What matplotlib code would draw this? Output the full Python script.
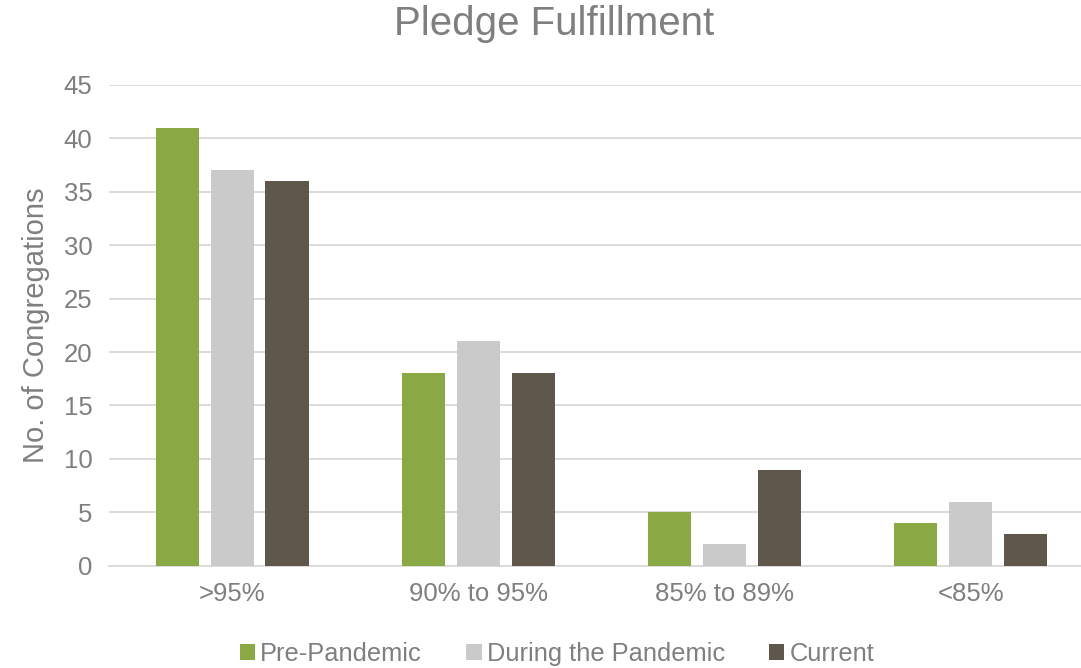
import matplotlib.pyplot as plt
import numpy as np

categories = [">95%", "90% to 95%", "85% to 89%", "<85%"]
series_names = ["Pre-Pandemic", "During the Pandemic", "Current"]
pre_pandemic = [41, 18, 5, 4]
during_pandemic = [37, 21, 2, 6]
current = [36, 18, 9, 3]

colors = ["#8AA843", "#CACACA", "#5F574B"]
text_col = "#7F7F7F"

plt.rcParams['font.family'] = ['Liberation Sans', 'DejaVu Sans']

fig = plt.figure(figsize=(10.81, 6.68), dpi=100)
ax = fig.add_axes([0.1008, 0.153, 0.911, 0.72])

x = np.arange(len(categories))
pitch = 0.223
width = 0.175
for i, (vals, name) in enumerate(zip([pre_pandemic, during_pandemic, current], series_names)):
    ax.bar(x + (i - 1) * pitch, vals, width, color=colors[i], label=name, zorder=3)

ax.set_xlim(-0.5, 3.5)
ax.set_ylim(0, 45)
ax.set_yticks(range(0, 46, 5))
ax.set_xticks(x)
ax.set_xticklabels(categories)
ax.grid(axis='y', color='#D9D9D9', linewidth=1.3, zorder=0)
for s in ['top', 'right', 'left']:
    ax.spines[s].set_visible(False)
ax.spines['bottom'].set_color('#D9D9D9')
ax.spines['bottom'].set_linewidth(1.3)
ax.tick_params(axis='both', length=0, labelsize=18.5, colors=text_col, pad=12)
ax.set_ylabel("No. of Congregations", fontsize=21, color=text_col, labelpad=10)
ax.set_title("Pledge Fulfillment", fontsize=29, color=text_col, pad=36, x=0.452)

ax.legend(loc='upper center', bbox_to_anchor=(0.455, -0.11), ncol=3, frameon=False,
          fontsize=18.3, labelcolor=text_col, handlelength=0.6, handleheight=0.6,
          handletextpad=0.2, columnspacing=1.75)

fig.savefig("out.png", dpi=100)
